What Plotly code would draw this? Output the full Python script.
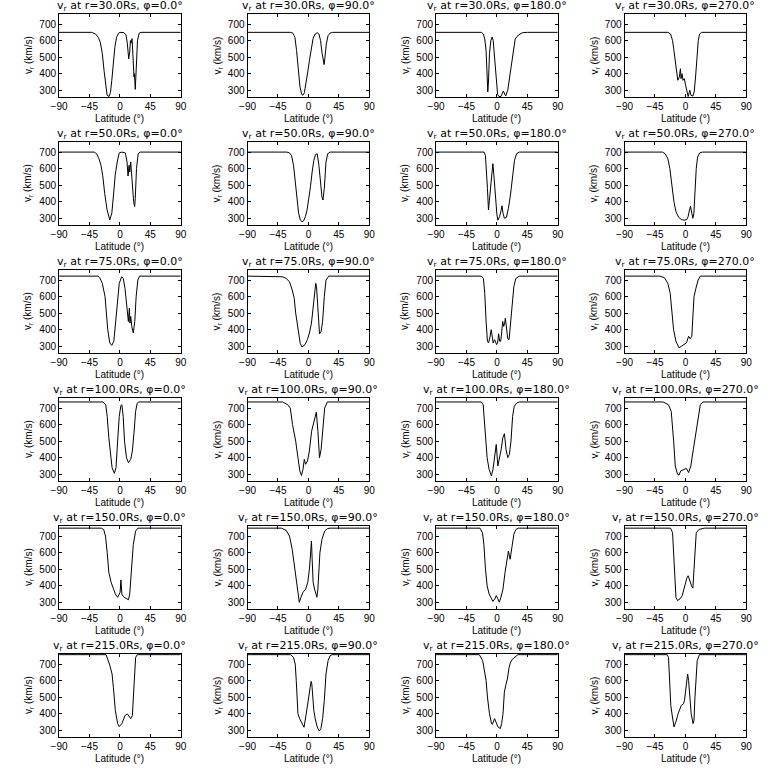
import plotly.graph_objects as go

RADII = [30.0, 50.0, 75.0, 100.0, 150.0, 215.0]
PHIS = [0.0, 90.0, 180.0, 270.0]
X_TICKS = [-90, -45, 0, 45, 90]
Y_TICKS = [300, 400, 500, 600, 700]

# ---- r = 30 Rs ----
LAT_R30_P0 = [-90, -42, -36, -32, -29, -26, -23.5, -21, -19, -16, -14, -12, -10, -7.5, -5, -2, 0, 6, 9, 11, 13, 14.5, 15.5, 16.5, 18, 19.5, 20.8, 21.5, 22.7, 24, 26, 28.5, 31, 90]
V_R30_P0 = [650, 650, 640, 620, 590, 520, 420, 320, 270, 262, 285, 360, 450, 560, 620, 645, 650, 648, 635, 580, 490, 530, 600, 585, 612, 480, 380, 400, 305, 420, 600, 645, 650, 650]
LAT_R30_P90 = [-90, -26, -23, -20, -17.5, -15, -12.5, -10, -8, -6, -3.5, -1, 1.5, 4, 7, 10, 13, 15.5, 18, 20, 22, 23.2, 24.5, 26.5, 29, 32, 36, 90]
V_R30_P90 = [650, 650, 645, 620, 540, 420, 320, 275, 270, 285, 340, 410, 480, 555, 615, 640, 648, 640, 600, 530, 470, 455, 500, 580, 630, 645, 650, 650]
LAT_R30_P180 = [-90, -23, -20, -18, -16, -14.5, -13.5, -12.5, -11, -9, -7, -5.5, -3, -1, 1, 3, 6, 9.5, 13, 16, 20, 24, 27, 32, 38, 45, 90]
V_R30_P180 = [650, 650, 640, 610, 540, 400, 290, 350, 520, 600, 622, 600, 480, 360, 275, 262, 262, 295, 265, 300, 420, 540, 610, 635, 648, 650, 650]
LAT_R30_P270 = [-90, -26, -22, -19, -17, -15, -13, -11.3, -9, -7.4, -6.5, -5, -3.6, -1.6, 0.3, 2, 4, 6.5, 8, 11, 13, 15, 17, 19, 21, 24, 90]
V_R30_P270 = [650, 650, 640, 600, 540, 470, 390, 360, 380, 430, 370, 400, 360, 370, 330, 290, 262, 300, 270, 265, 290, 380, 500, 600, 640, 650, 650]

# ---- r = 50 Rs ----
LAT_R50_P0 = [-90, -38, -34.5, -31, -28, -25.5, -22.5, -19, -15, -12, -9.5, -7, -4, -1, 3, 8, 10.5, 12, 13.5, 14.5, 16, 18.5, 20.3, 21.8, 22.7, 24.5, 27, 30, 90]
V_R50_P0 = [700, 700, 690, 660, 620, 560, 450, 350, 290, 330, 440, 560, 640, 695, 700, 695, 640, 555, 620, 580, 640, 480, 400, 370, 420, 600, 690, 700, 700]
LAT_R50_P90 = [-90, -32, -28, -25, -22, -19.5, -17, -14.5, -12, -9.5, -7, -4.5, -2, 0.5, 3, 5.5, 8, 10.5, 13, 15.5, 18, 20, 21.5, 23.5, 26, 28.5, 32, 90]
V_R50_P90 = [700, 700, 695, 680, 620, 530, 420, 330, 290, 278, 285, 310, 350, 410, 490, 580, 650, 685, 690, 620, 500, 430, 410, 480, 640, 690, 700, 700]
LAT_R50_P180 = [-90, -19, -17, -15.5, -14, -12.5, -11, -9, -7.5, -6, -4.5, -2.5, 0, 1.5, 4, 6, 7.5, 9, 11, 14, 17, 20, 23, 26, 29, 33, 90]
V_R50_P180 = [700, 700, 680, 600, 480, 350, 420, 520, 560, 630, 560, 420, 320, 288, 310, 345, 375, 330, 300, 305, 360, 440, 560, 650, 690, 700, 700]
LAT_R50_P270 = [-90, -34, -30, -26, -23, -20, -17, -14, -10, -6, -2, 2, 4, 6, 7.5, 9.5, 11, 12.5, 14, 16, 18, 21, 25, 90]
V_R50_P270 = [700, 700, 690, 660, 600, 500, 400, 340, 305, 292, 288, 292, 310, 350, 372, 330, 300, 330, 450, 600, 670, 695, 700, 700]

# ---- r = 75 Rs ----
LAT_R75_P0 = [-90, -32.5, -30, -26, -22, -20, -18, -15, -12, -9, -6, -3.5, -1, 2.5, 5, 7.5, 10, 12.5, 14, 14.8, 16, 17.5, 19.8, 22, 24, 26.5, 29, 90]
V_R75_P0 = [724, 724, 715, 680, 600, 500, 400, 320, 305, 330, 450, 580, 680, 720, 710, 650, 540, 450, 530, 440, 480, 420, 380, 450, 600, 700, 724, 724]
LAT_R75_P90 = [-90, -45, -38, -33, -28, -24, -21, -18.8, -15, -12, -9.5, -5, -1.5, 1.5, 4.5, 8, 10.8, 12, 14.5, 16.4, 18.8, 21, 23.5, 26, 30, 90]
V_R75_P90 = [724, 724, 720, 710, 690, 640, 590, 500, 400, 315, 295, 310, 340, 380, 440, 600, 680, 660, 500, 375, 390, 450, 600, 700, 724, 724]
LAT_R75_P180 = [-90, -23, -20, -18, -16, -14, -12.5, -10.5, -8.5, -6.5, -5.5, -3.5, -2, -0.5, 1, 2.5, 4, 5.5, 7, 8.5, 10, 11.5, 12.5, 14, 16, 18, 20, 22.5, 25, 28, 33, 90]
V_R75_P180 = [724, 724, 710, 620, 450, 330, 320, 350, 400, 330, 320, 340, 320, 310, 320, 375, 330, 330, 380, 450, 420, 440, 470, 420, 345, 340, 420, 560, 660, 710, 724, 724]
LAT_R75_P270 = [-90, -38, -31, -26, -22.5, -20, -17.5, -14, -11, -9.5, -6, -2.3, 1.5, 4.7, 7, 9.4, 10.8, 12.7, 15.5, 18.8, 22, 90]
V_R75_P270 = [724, 724, 715, 680, 620, 500, 400, 330, 300, 290, 300, 310, 320, 360, 345, 360, 450, 600, 650, 700, 724, 724]

# ---- r = 100 Rs ----
LAT_R100_P0 = [-90, -25, -21, -18.8, -16.4, -14, -11.6, -8.2, -5.8, -3.4, -1, 1.4, 2.9, 4.8, 6.8, 9.7, 12.6, 16, 18.4, 20.8, 23.2, 25.6, 28, 90]
V_R100_P0 = [737, 737, 720, 650, 520, 420, 340, 305, 340, 500, 650, 715, 720, 650, 500, 400, 370, 390, 440, 550, 680, 730, 737, 737]
LAT_R100_P90 = [-90, -38, -30.5, -26.8, -23.5, -18.8, -15.5, -12.7, -10.3, -8, -6.1, -4.2, -1.4, 1.4, 4.7, 8, 9.4, 11.7, 14, 16.4, 18.8, 21, 24, 28, 90]
V_R100_P90 = [737, 737, 720, 700, 600, 500, 400, 320, 292, 330, 390, 360, 380, 440, 560, 620, 650, 675, 560, 400, 450, 560, 700, 737, 737]
LAT_R100_P180 = [-90, -23, -20.3, -18.8, -16.4, -14.5, -11.6, -8.2, -5.8, -2.9, -1, 1.4, 3.9, 6.3, 8.7, 11.1, 13.5, 16, 18.4, 20.8, 23.2, 25.6, 29, 33, 90]
V_R100_P180 = [737, 737, 720, 650, 500, 400, 330, 290, 330, 420, 480, 350, 400, 450, 520, 545, 450, 400, 420, 500, 650, 710, 730, 737, 737]
LAT_R100_P270 = [-90, -33, -25, -21, -17.4, -15, -11.7, -9.4, -7, -2.3, 1.4, 4.7, 8, 11.7, 15.5, 18.8, 22, 26, 90]
V_R100_P270 = [737, 737, 720, 680, 500, 350, 300, 295, 320, 330, 335, 310, 350, 450, 550, 650, 720, 737, 737]

# ---- r = 150 Rs ----
LAT_R150_P0 = [-90, -27.5, -24, -21.3, -18.8, -16.4, -13, -9.7, -6.8, -3.4, -1, 0.3, 1.5, 3, 6.3, 9.7, 12.6, 14.5, 17.4, 19.8, 23.2, 26.6, 90]
V_R150_P0 = [748, 748, 740, 700, 600, 480, 420, 380, 350, 330, 350, 360, 435, 345, 330, 320, 315, 350, 500, 650, 730, 748, 748]
LAT_R150_P90 = [-90, -40, -33, -28, -24, -21, -18, -15.5, -13.5, -11, -8, -4, -1, 1.5, 3, 4.5, 5.5, 7, 9, 11, 12.5, 14, 15.5, 17, 20, 24, 28, 32, 90]
V_R150_P90 = [748, 748, 735, 700, 620, 520, 420, 330, 300, 330, 360, 380, 420, 500, 600, 670, 560, 420, 380, 340, 330, 380, 480, 600, 680, 730, 745, 748, 748]
LAT_R150_P180 = [-90, -25, -21.3, -19.3, -16.9, -14.5, -11.6, -9, -6, -3, -1, 1.5, 3.5, 6, 9, 12, 15, 17, 19.5, 22, 25, 28, 32, 90]
V_R150_P180 = [748, 748, 720, 650, 500, 400, 350, 330, 305, 320, 340, 320, 300, 330, 380, 480, 570, 610, 560, 640, 710, 740, 748, 748]
LAT_R150_P270 = [-90, -22, -19, -17.4, -15.5, -14, -11.7, -8, -4.7, -2.3, 0, 2, 4, 7, 9, 11, 13, 14.5, 16, 20, 28, 90]
V_R150_P270 = [748, 748, 720, 600, 450, 330, 310, 320, 340, 380, 420, 445, 460, 420, 400, 385, 500, 650, 720, 740, 748, 748]

# ---- r = 215 Rs ----
LAT_R215_P0 = [-90, -20.5, -15.5, -11.6, -9.7, -6.8, -3.4, -1, 2.9, 7.7, 11.1, 16, 18.4, 19.8, 21.3, 23.2, 25.6, 90]
V_R215_P0 = [757, 757, 700, 640, 560, 420, 340, 322, 340, 390, 398, 370, 390, 500, 650, 740, 757, 757]
LAT_R215_P90 = [-90, -26, -22, -19.5, -18, -16.5, -15.5, -13, -10, -6.5, -4, -2, 0.5, 2.5, 4, 5, 6, 8, 10, 13, 16, 18.5, 21, 23.5, 26, 29, 32, 35, 90]
V_R215_P90 = [757, 757, 740, 700, 600, 450, 400, 370, 345, 318, 380, 450, 500, 560, 595, 580, 500, 420, 370, 320, 295, 310, 370, 480, 640, 720, 750, 757, 757]
LAT_R215_P180 = [-90, -26, -21, -19, -16, -14, -11, -8, -6.8, -3.4, -1, 1.5, 5, 7, 9, 11, 13, 15.5, 18, 20, 23, 27, 31, 90]
V_R215_P180 = [757, 757, 720, 680, 600, 500, 400, 340, 335, 370, 345, 320, 310, 340, 400, 530, 570, 610, 680, 710, 730, 745, 757, 757]
LAT_R215_P270 = [-90, -27, -25, -23.5, -21.6, -19.2, -16.9, -14.1, -10.8, -6.1, -2.8, -1.4, 0.9, 3.3, 4.7, 6.6, 8.5, 11.3, 12.7, 14.1, 16, 17.4, 20.7, 90]
V_R215_P270 = [757, 757, 740, 600, 450, 380, 320, 350, 400, 450, 460, 480, 550, 640, 600, 500, 400, 340, 360, 500, 650, 720, 757, 757]

PANELS = [
    [(LAT_R30_P0, V_R30_P0), (LAT_R30_P90, V_R30_P90), (LAT_R30_P180, V_R30_P180), (LAT_R30_P270, V_R30_P270)],
    [(LAT_R50_P0, V_R50_P0), (LAT_R50_P90, V_R50_P90), (LAT_R50_P180, V_R50_P180), (LAT_R50_P270, V_R50_P270)],
    [(LAT_R75_P0, V_R75_P0), (LAT_R75_P90, V_R75_P90), (LAT_R75_P180, V_R75_P180), (LAT_R75_P270, V_R75_P270)],
    [(LAT_R100_P0, V_R100_P0), (LAT_R100_P90, V_R100_P90), (LAT_R100_P180, V_R100_P180), (LAT_R100_P270, V_R100_P270)],
    [(LAT_R150_P0, V_R150_P0), (LAT_R150_P90, V_R150_P90), (LAT_R150_P180, V_R150_P180), (LAT_R150_P270, V_R150_P270)],
    [(LAT_R215_P0, V_R215_P0), (LAT_R215_P90, V_R215_P90), (LAT_R215_P180, V_R215_P180), (LAT_R215_P270, V_R215_P270)],
]

W = H = 768
FONT = "Liberation Sans"
TFONT = "DejaVu Sans"
fig = go.Figure()
layout = dict(width=W, height=H, autosize=False, margin=dict(l=0, r=0, t=0, b=0),
              paper_bgcolor="white", plot_bgcolor="white", showlegend=False,
              font=dict(family=FONT, color="black", size=10))
annotations = []

for r_i, radius in enumerate(RADII):
    for c_i, phi in enumerate(PHIS):
        k = r_i * 4 + c_i + 1
        xname = "xaxis" if k == 1 else f"xaxis{k}"
        yname = "yaxis" if k == 1 else f"yaxis{k}"
        xref = "x" if k == 1 else f"x{k}"
        yref = "y" if k == 1 else f"y{k}"
        left = 52 + 192 * c_i
        right = 176 + 192 * c_i
        top = 14 + 128 * r_i
        bottom = 97 + 128 * r_i
        lat, v = PANELS[r_i][c_i]
        fig.add_trace(go.Scatter(x=lat, y=v, mode="lines", xaxis=xref, yaxis=yref,
                                 line=dict(color="black", width=1), hoverinfo="skip"))
        common = dict(showline=True, linecolor="black", linewidth=1, mirror="ticks",
                      ticks="inside", ticklen=3, tickcolor="black", tickwidth=1,
                      showgrid=False, zeroline=False, tickfont=dict(family=FONT, size=10, color="black"))
        layout[xname] = dict(domain=[left / W, right / W], range=[-90, 90], tickmode="array",
                             tickvals=X_TICKS, anchor=yref, **common)
        layout[yname] = dict(domain=[1 - bottom / H, 1 - top / H], range=[259, 761], tickmode="array",
                             tickvals=Y_TICKS, anchor=xref, **common)
        cx = (left + right) / 2
        annotations.append(dict(xref="paper", yref="paper", x=cx / W, y=1 - (6 + 128 * r_i) / H,
                                text=f"v<sub>r</sub> at r={radius:.1f}Rs, \u03c6={phi:.1f}\u00b0",
                                showarrow=False, xanchor="center", yanchor="middle",
                                font=dict(family=TFONT, size=11, color="black")))
        annotations.append(dict(xref="paper", yref="paper", x=cx / W, y=1 - (118 + 128 * r_i) / H,
                                text="Latitude (\u00b0)", showarrow=False, xanchor="center", yanchor="middle",
                                font=dict(family=FONT, size=10, color="black")))
        annotations.append(dict(xref="paper", yref="paper", x=(21 + 192 * c_i) / W,
                                y=1 - (55.5 + 128 * r_i) / H, text="v<sub>r</sub> (km/s)", textangle=-90,
                                showarrow=False, xanchor="center", yanchor="middle",
                                font=dict(family=FONT, size=10, color="black")))

layout["annotations"] = annotations
fig.update_layout(**layout)
fig.write_html("out.html", config={"displayModeBar": False, "staticPlot": True},
               post_script="document.body.style.margin='0';document.body.style.overflow='hidden';")
